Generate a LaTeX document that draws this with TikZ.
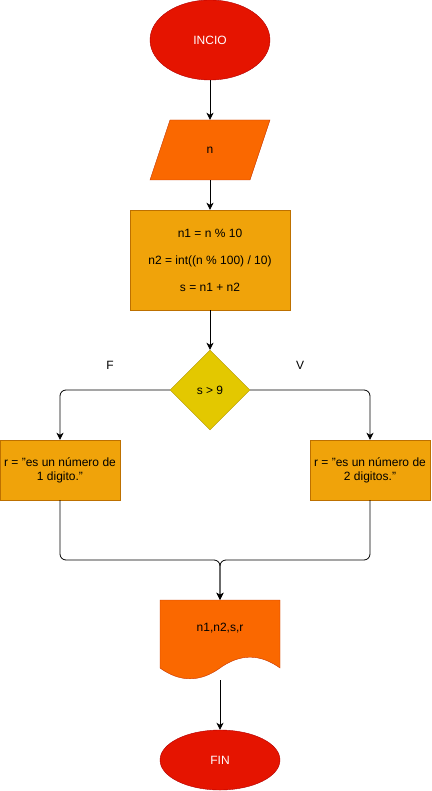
\documentclass[tikz,border=0pt]{standalone}
\usepackage{fontspec}
\setmainfont{Liberation Sans}
\usetikzlibrary{shapes.geometric,arrows.meta}
\definecolor{cred}{HTML}{E51400}
\definecolor{credline}{HTML}{B20000}
\definecolor{corange}{HTML}{FA6800}
\definecolor{corangeline}{HTML}{C73500}
\definecolor{camber}{HTML}{F0A30A}
\definecolor{camberline}{HTML}{BD7000}
\definecolor{cyellow}{HTML}{E3C800}
\definecolor{cyellowline}{HTML}{B09500}
\tikzset{
  txt/.style={font=\fontsize{12}{14}\selectfont, align=center, inner sep=0pt},
  terminal/.style={ellipse, fill=cred, draw=credline, text=white, minimum width=120pt, txt},
  procbox/.style={rectangle, fill=camber, draw=camberline, txt},
  decision/.style={diamond, aspect=1, minimum size=80pt, fill=cyellow, draw=cyellowline, txt},
  anchorbox/.style={rectangle, txt},
  conn/.style={draw=black, line width=0.8pt, -{Stealth[length=7pt,width=7pt,inset=2pt]}},
  merge/.style={conn, rounded corners=6pt},
}
\begin{document}
\begin{tikzpicture}[x=1pt,y=-1pt]
\useasboundingbox (0,0) rectangle (431,791);
% start
\node[terminal, minimum height=80pt] (start) at (210,40) {INCIO};
% input parallelogram
\draw[fill=corange, draw=corangeline] (170,120) -- (270,120) -- (250,180) -- (150,180) -- cycle;
\node[anchorbox, minimum width=120pt, minimum height=60pt] (inp) at (210,150) {n};
% process
\node[procbox, minimum width=160pt, minimum height=100pt] (proc) at (210,260) {};
\node[txt] (l1) at (210,233) {n1 = n \% 10};
\node[txt] (l2) at (210,261) {n2 = int((n \% 100) / 10)};
\node[txt] (l3) at (210,287) {s = n1 + n2};
% decision
\node[decision] (dec) at (210,390) {s > 9};
\node[txt] (lf) at (110,365) {F};
\node[txt] (lv) at (300,365) {V};
% branches
\node[procbox, minimum width=120pt, minimum height=60pt] (lb) at (60,470) {r = "es un número de\\1 digito."};
\node[procbox, minimum width=120pt, minimum height=60pt] (rb) at (370,470) {r = "es un número de\\2 digitos."};
% document
\draw[fill=corange, draw=corangeline] (160,600) -- (280,600) -- (280,668)
  .. controls (260,653.6) and (240,653.6) .. (220,668)
  .. controls (200,682.4) and (180,682.4) .. (160,668) -- cycle;
\node[anchorbox, minimum width=120pt, minimum height=80pt] (doc) at (220,640) {};
\node[txt] (doct) at (220,628) {n1,n2,s,r};
% end
\node[terminal, minimum height=60pt, minimum width=120pt] (fin) at (220,760) {FIN};
\coordinate (ml) at (60,560);
\coordinate (mr) at (370,560);
\coordinate (mc) at (220,560);
% connectors
\draw[conn] (start.south) -- (inp.north);
\draw[conn] (inp.south) -- (proc.north);
\draw[conn] (proc.south) -- (dec.north);
\draw[merge] (dec.west) -| (lb.north);
\draw[merge] (dec.east) -| (rb.north);
\draw[merge] (lb.south) -- (ml) -- (mc) -- (doc.north);
\draw[merge] (rb.south) -- (mr) -- (mc) -- (doc.north);
\draw[conn] (doc.south) -- (fin.north);
\end{tikzpicture}
\end{document}
